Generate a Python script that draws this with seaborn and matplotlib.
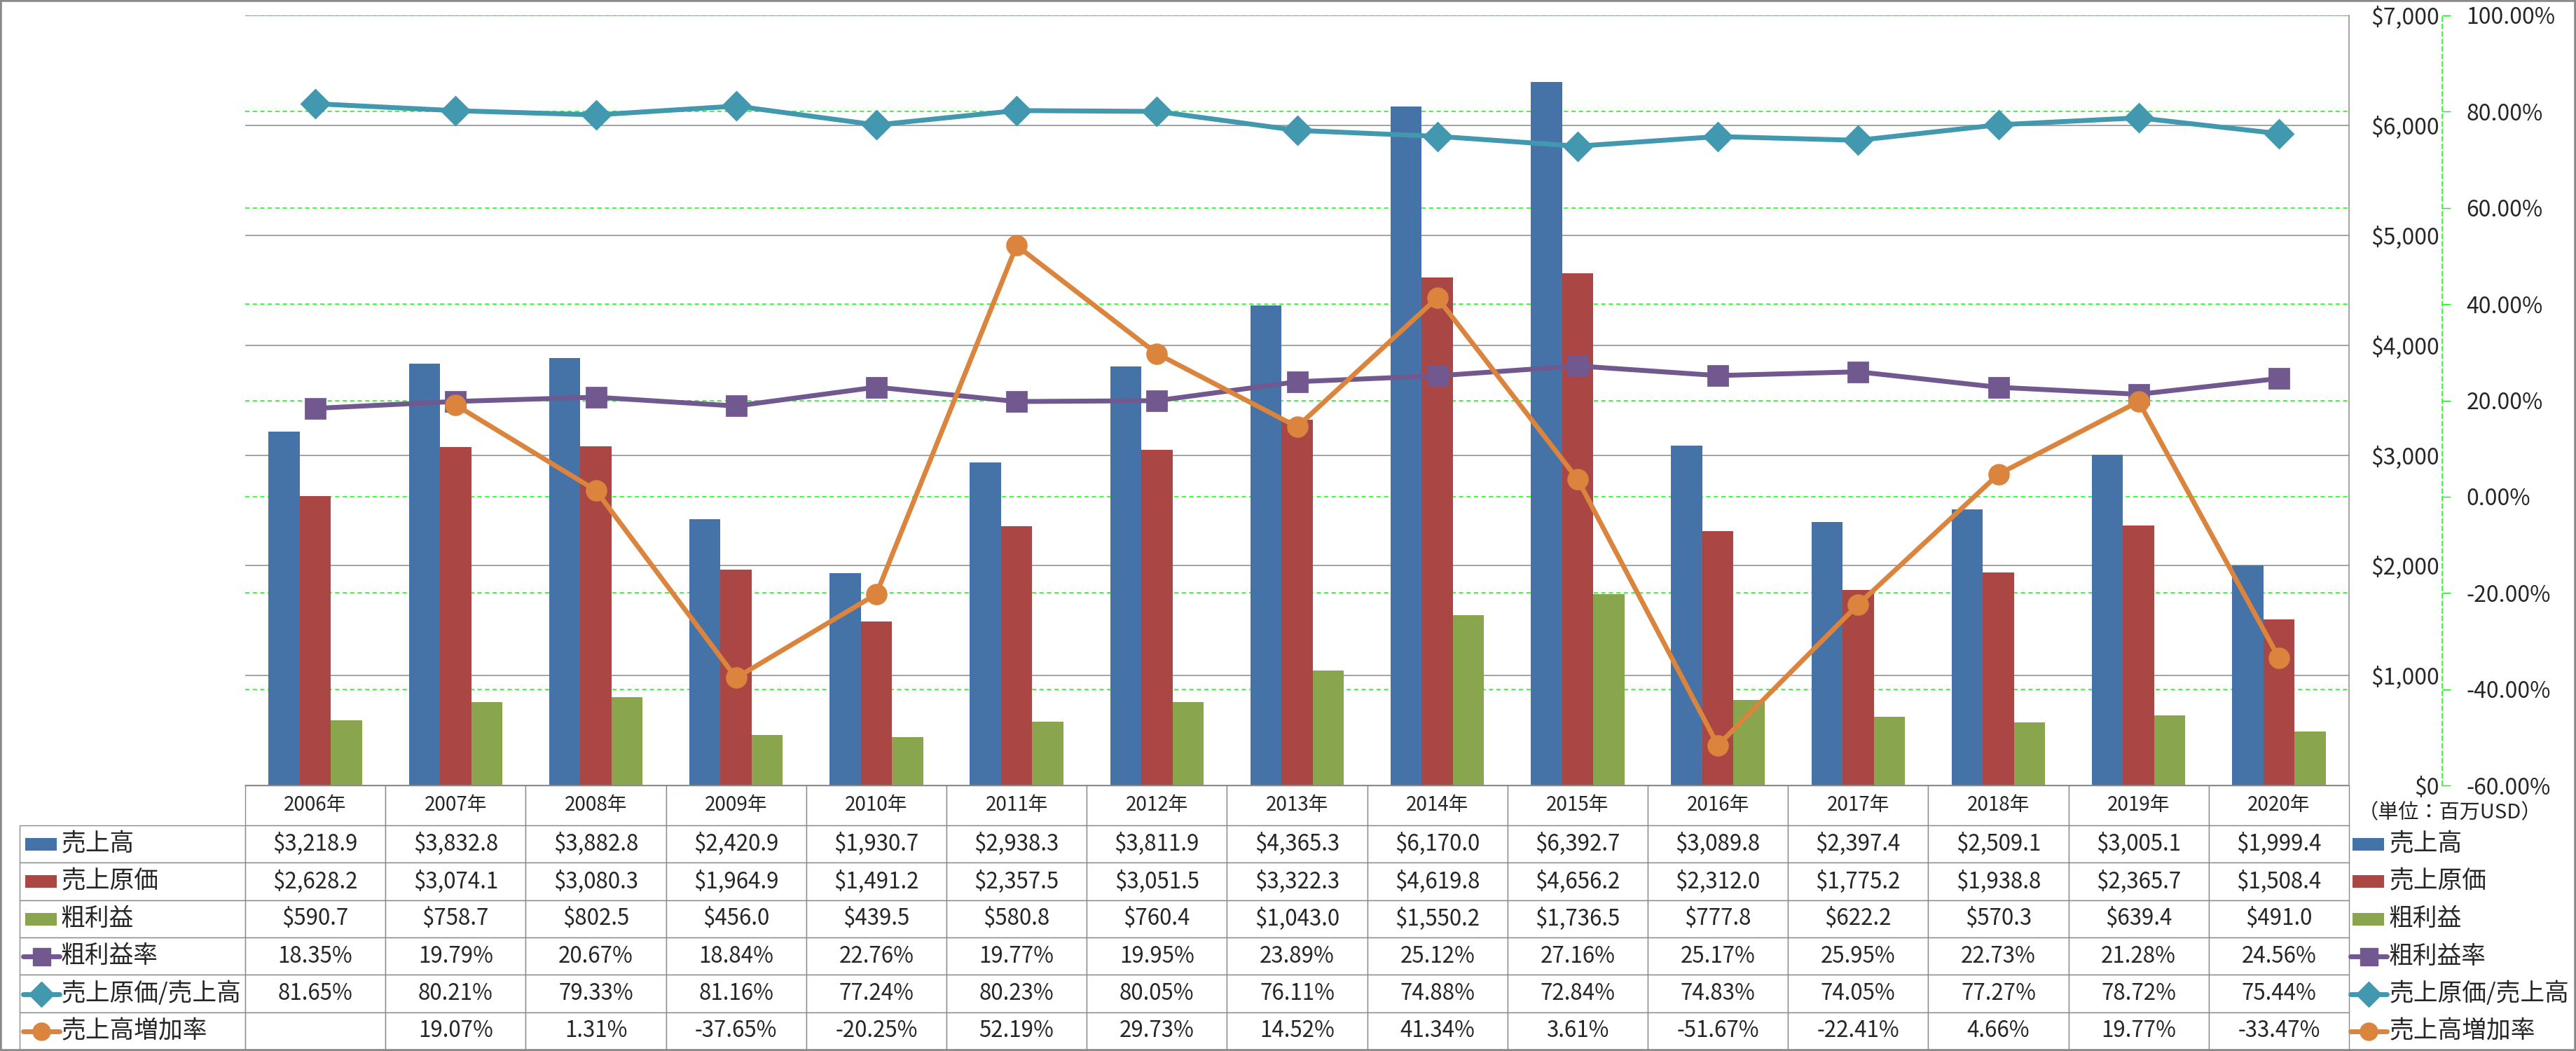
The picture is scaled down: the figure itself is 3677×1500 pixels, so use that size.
import numpy as np
import pandas as pd
import matplotlib
matplotlib.use("Agg")
import matplotlib.pyplot as plt
import seaborn as sns
from matplotlib.table import Table
from matplotlib.lines import Line2D
from matplotlib.patches import Rectangle

years = ["2006年", "2007年", "2008年", "2009年", "2010年", "2011年", "2012年", "2013年",
         "2014年", "2015年", "2016年", "2017年", "2018年", "2019年", "2020年"]
sales = [3218.9, 3832.8, 3882.8, 2420.9, 1930.7, 2938.3, 3811.9, 4365.3,
         6170.0, 6392.7, 3089.8, 2397.4, 2509.1, 3005.1, 1999.4]
cost = [2628.2, 3074.1, 3080.3, 1964.9, 1491.2, 2357.5, 3051.5, 3322.3,
        4619.8, 4656.2, 2312.0, 1775.2, 1938.8, 2365.7, 1508.4]
gross = [590.7, 758.7, 802.5, 456.0, 439.5, 580.8, 760.4, 1043.0,
         1550.2, 1736.5, 777.8, 622.2, 570.3, 639.4, 491.0]
margin_pct = [18.35, 19.79, 20.67, 18.84, 22.76, 19.77, 19.95, 23.89,
              25.12, 27.16, 25.17, 25.95, 22.73, 21.28, 24.56]
cost_ratio_pct = [81.65, 80.21, 79.33, 81.16, 77.24, 80.23, 80.05, 76.11,
                  74.88, 72.84, 74.83, 74.05, 77.27, 78.72, 75.44]
growth_pct = [np.nan, 19.07, 1.31, -37.65, -20.25, 52.19, 29.73, 14.52,
              41.34, 3.61, -51.67, -22.41, 4.66, 19.77, -33.47]

bar_names = ["売上高", "売上原価", "粗利益"]
line_names = ["粗利益率", "売上原価/売上高", "売上高増加率"]
usd_ticks = [0, 1000, 2000, 3000, 4000, 5000, 6000, 7000]
pct_ticks = [-60, -40, -20, 0, 20, 40, 60, 80, 100]
unit_note = "（単位：百万USD）"

bar_colors = ["#4572A7", "#AA4643", "#89A54E"]
line_colors = ["#71588F", "#4198AF", "#DB843D"]
line_markers = ["s", "D", "o"]
GRID_GRAY = "#8a8a8a"
GRID_GREEN = "#00FF00"

sns.set_style("white")
plt.rcParams["font.family"] = ["Noto Sans CJK JP", "DejaVu Sans"]

W, H = 3677, 1500


def fx(px):
    return px / W


def fy(py):
    return 1 - py / H


fig = plt.figure(figsize=(W / 100, H / 100), dpi=100)

# plot area: three stacked axes so the layers come out like excel
# (gray grid, green grid, bars, lines)
x0, x1, ytop, ybot = 350, 3353, 22, 1121
rect = [fx(x0), fy(ybot), fx(x1) - fx(x0), fy(ytop) - fy(ybot)]
ax_pct = fig.add_axes(rect)
ax_bar = ax_pct.twinx()
ax_line = ax_pct.twinx()

# bars
bars = pd.DataFrame({
    "年": years * 3,
    "項目": np.repeat(bar_names, len(years)),
    "値": sales + cost + gross,
})
sns.barplot(data=bars, x="年", y="値", hue="項目", palette=bar_colors,
            width=0.667, saturation=1, linewidth=0, errorbar=None,
            legend=False, ax=ax_bar)

# lines (percent axis)
xs = np.arange(len(years))
for vals, color, mk in zip([margin_pct, cost_ratio_pct, growth_pct], line_colors, line_markers):
    sns.lineplot(x=xs, y=vals, ax=ax_line, color=color, marker=mk, markersize=20,
                 markeredgecolor=color, markeredgewidth=2, linewidth=5, legend=False)

ax_bar.set_xlim(-0.5, len(years) - 0.5)
ax_bar.set_ylim(0, 7000)
ax_pct.set_ylim(-60, 100)
ax_line.set_ylim(-60, 100)
ax_line.axis("off")

# percent axis (green dashed, far right)
ax_pct.set_yticks(pct_ticks)
ax_pct.set_yticklabels([f"{t:.2f}%" for t in pct_ticks])
ax_pct.yaxis.tick_right()
ax_pct.tick_params(axis="y", right=True, left=False, direction="out", length=8.6,
                   width=1.0, color=GRID_GREEN, pad=16, labelsize=23)
ax_pct.tick_params(axis="x", bottom=False, labelbottom=False)
for lbl, t in zip(ax_pct.get_yticklabels(), pct_ticks):
    lbl.set_color("#FF0000" if t < 0 else "black")
ax_pct.grid(axis="y", color=GRID_GREEN, linestyle=(0, (4, 3)), linewidth=1.1)
for s in ["left", "top", "bottom"]:
    ax_pct.spines[s].set_visible(False)
ax_pct.spines["right"].set_position(("outward", 96))
ax_pct.spines["right"].set_color(GRID_GREEN)
ax_pct.spines["right"].set_linestyle((0, (4, 3)))
ax_pct.spines["right"].set_linewidth(1.1)

# dollar axis
ax_bar.set_yticks(usd_ticks)
ax_bar.set_yticklabels([f"${t:,}" for t in usd_ticks])
ax_bar.tick_params(axis="y", right=True, length=0, pad=93, labelsize=23)
plt.setp(ax_bar.get_yticklabels(), ha="right")
ax_bar.tick_params(axis="x", bottom=False, labelbottom=False)
ax_bar.grid(axis="y", color=GRID_GRAY, linewidth=1.1)
ax_bar.set_axisbelow(True)
ax_bar.set_xlabel("")
ax_bar.set_ylabel("")
for s in ["left", "top"]:
    ax_bar.spines[s].set_visible(False)
for s in ["right", "bottom"]:
    ax_bar.spines[s].set_color(GRID_GRAY)
    ax_bar.spines[s].set_linewidth(1.1)

# ---- data table ----
tax = fig.add_axes([fx(28), fy(1498), fx(3353) - fx(28), fy(1121) - fy(1498)])
tax.axis("off")
tab = Table(tax, bbox=[0, 0, 1, 1])
tab.auto_set_font_size(False)
label_w = 322
col_w = (3353 - 350) / len(years)
head_h, row_h = 57, 53.5

rows = [
    [f"${v:,.1f}" for v in sales],
    [f"${v:,.1f}" for v in cost],
    [f"${v:,.1f}" for v in gross],
    [f"{v:.2f}%" for v in margin_pct],
    [f"{v:.2f}%" for v in cost_ratio_pct],
    ["" if np.isnan(v) else f"{v:.2f}%" for v in growth_pct],
]
names = bar_names + line_names

c = tab.add_cell(0, 0, label_w, head_h, text="")
c.visible_edges = ""
for j, yr in enumerate(years):
    c = tab.add_cell(0, j + 1, col_w, head_h, text=yr, loc="center", edgecolor=GRID_GRAY)
    c.get_text().set_fontsize(20)
    c.set_linewidth(1.0)
for i, (name, vals) in enumerate(zip(names, rows)):
    c = tab.add_cell(i + 1, 0, label_w, row_h, text=name, loc="left", edgecolor=GRID_GRAY)
    c.PAD = 59 / label_w
    c.get_text().set_fontsize(25)
    c.set_linewidth(1.0)
    for j, v in enumerate(vals):
        c = tab.add_cell(i + 1, j + 1, col_w, row_h, text=v, loc="center", edgecolor=GRID_GRAY)
        c.get_text().set_fontsize(22.5)
        c.set_linewidth(1.0)
tax.add_table(tab)


# legend keys (left label column and right legend)
def draw_key(idx, cx_left, cy):
    if idx < 3:
        fig.add_artist(Rectangle((fx(cx_left), fy(cy + 9)), fx(45), 18 / H,
                                 transform=fig.transFigure, color=bar_colors[idx], lw=0))
    else:
        k = idx - 3
        fig.add_artist(Line2D([fx(cx_left - 3), fx(cx_left + 49)], [fy(cy), fy(cy)],
                              transform=fig.transFigure, color=line_colors[k], lw=5,
                              solid_capstyle="round"))
        fig.add_artist(Line2D([fx(cx_left + 23)], [fy(cy)], transform=fig.transFigure,
                              color=line_colors[k], marker=line_markers[k], markersize=18,
                              markeredgecolor=line_colors[k], lw=0))


for i, name in enumerate(names):
    cy = 1121 + head_h + row_h * i + row_h / 2
    draw_key(i, 36, cy)
    draw_key(i, 3358, cy)
    fig.text(fx(3410), fy(cy), name, fontsize=25, va="center", ha="left")

fig.text(fx(3366), fy(1160), unit_note, fontsize=21, va="center", ha="left")

# chart border
fig.add_artist(Rectangle((0, 0), 1, 1, transform=fig.transFigure, fill=False,
                         lw=4, ec=GRID_GRAY))

fig.savefig("out.png", dpi=100)
